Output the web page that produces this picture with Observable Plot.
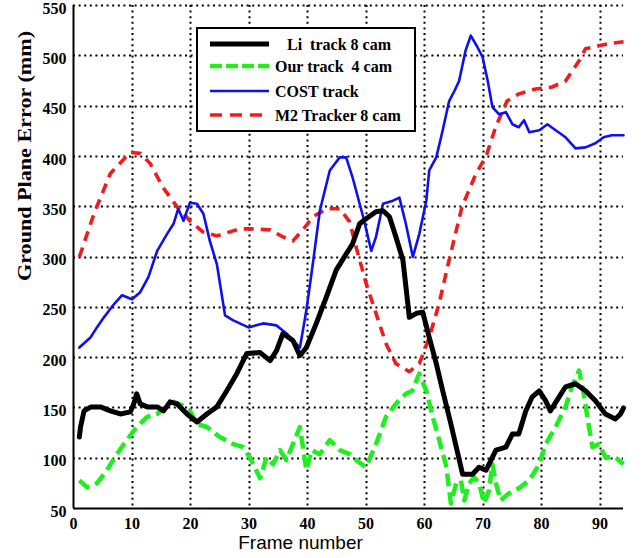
<!DOCTYPE html>
<html><head><meta charset="utf-8">
<script src="https://cdn.jsdelivr.net/npm/d3@7"></script>
<script src="https://cdn.jsdelivr.net/npm/@observablehq/plot@0.6"></script>
<style>
body{margin:0;background:#fff;}
#chart{position:relative;width:644px;height:558px;overflow:hidden;}
#legend{position:absolute;left:0;top:0;}
</style></head><body><div id="chart"></div>
<script>
// ---- data ----
const xTicks = [0,10,20,30,40,50,60,70,80,90];
const yTicks = [50,100,150,200,250,300,350,400,450,500,550];
const seriesNames = ["Li  track 8 cam", "Our track  4 cam", "COST track", "M2 Tracker 8 cam"];
const seriesColors = ["#000000", "#1fee1f", "#1010ee", "#f01c1c"];

const liFrames = [1,1.2,1.8,3,4.6,6.3,8,9.7,10.3,10.8,11.4,12.6,14.3,15.4,16.5,17.7,19.4,21.1,22.8,24.5,26.2,27.9,29.6,31.9,33.6,34.7,35.8,37.5,38.7,39.8,41.5,43.2,44.9,46.6,47.7,48.9,50,51.7,52.9,54,55.1,56.3,57.4,58.6,59.7,60.8,62,63.1,64.5,66.5,68.2,69.3,70.5,72.2,73.9,75,76.1,77.3,78.4,79.6,80.7,81.5,83,84.1,85.8,87.5,89.2,90.9,92.6,93.5,94];
const liValues = [121,131,147,151,151,147,144,146,154,164,154,151,151,147,156,154,144,136,144,151,167,184,204,205,197,207,224,217,202,210,234,260,287,303,313,333,338,345,346,340,320,297,240,244,245,220,194,167,134,84,84,91,88,108,111,124,124,147,161,167,157,147,161,171,174,167,157,144,139,144,150];

const ourFrames = [1,2.3,4,5.7,7.4,9.1,10.8,12.6,14.3,16,17.1,18.8,19.9,21.1,22.8,25,27.3,29,30.2,31.9,33,34.1,35.3,36.4,37.5,38.7,39.8,40.7,42.1,43.8,45.5,47.2,48.3,50,51.7,53.4,55.1,56.8,57.9,59.1,60.3,61.4,62.5,63.7,64.5,65.4,66.2,66.8,67.6,68.5,69.3,70.2,71,71.6,72.2,73,74.4,76.1,77.9,79.6,80.7,82.4,84.1,85.2,86.4,87.2,88.1,88.7,89.8,90.9,92.6,94];
const ourValues = [78,71,75,88,104,118,131,141,144,151,156,152,147,134,131,121,114,111,100,80,101,94,108,98,114,131,88,108,104,118,108,104,98,91,114,141,154,164,167,184,167,141,118,92,55,75,78,58,75,81,75,55,68,94,75,58,65,70,78,94,114,131,151,171,187,164,131,111,114,101,101,94];

const costFrames = [1,2.9,4,5.2,6.9,8.3,10,11.4,12.8,14.3,16,17.1,17.9,18.8,19.9,21.1,22.2,23.3,24.5,25.9,27.3,29.9,32.4,34.7,36.4,38.7,39.8,40.9,42.1,43.8,45.5,46.6,47.7,49.5,50.9,51.7,52.9,54.6,55.7,56.8,58,59.1,60.3,60.8,62,63.1,64.2,65.1,65.9,67,67.9,69,69.9,70.8,71.6,72.7,73.9,75,76.1,77,77.9,79.6,81,82.4,84.1,85.8,87.5,89.2,90.6,92,94];
const costValues = [210,220,230,240,253,262,258,265,280,306,323,333,348,336,354,353,343,316,293,242,237,230,234,232,224,210,247,293,346,386,399,399,379,340,306,320,353,356,359,333,300,323,356,386,399,426,455,465,475,505,520,509,499,475,449,442,444,432,429,436,424,426,432,426,419,408,409,413,419,421,421];

const m2Frames = [1,3.5,6.3,9.7,11.4,13.1,15.3,17.7,19.9,22.1,24.5,28.4,30.2,33.6,35.8,37.5,39.2,40.9,43.3,45.5,47.2,48.3,50,51.7,53.4,55.1,57.4,59.1,60.8,62.5,64.2,66.4,68.8,70.5,72.2,74.1,76.1,79,81.8,84.1,86.4,87.5,89.8,91.5,94];
const m2Values = [300,343,383,404,403,393,369,350,336,325,321,328,328,327,320,316,327,340,348,348,335,310,274,244,214,194,186,194,220,254,297,350,383,400,430,455,462,467,469,475,495,507,510,512,514];

const rows = (frames, values) => frames.map((f, i) => ({frame: f, value: values[i]}));

const plot = Plot.plot({
  width: 644, height: 558,
  marginLeft: 73, marginRight: 21, marginTop: 5, marginBottom: 50,
  style: {background: "#fff", fontFamily: "'Liberation Serif', 'Times New Roman', serif", fontWeight: "bold", fontSize: "16px", color: "#000"},
  x: {domain: [0, 94], label: null},
  y: {domain: [50, 550], label: null},
  marks: [
    Plot.axisX({ticks: xTicks, tickSize: 0, tickPadding: 9, fontSize: 16, fontWeight: "bold"}),
    Plot.axisY({ticks: yTicks, tickSize: 0, tickPadding: 7, dy: 3, fontSize: 16, fontWeight: "bold"}),
    Plot.ruleX([0], {stroke: "#000", strokeWidth: 2}),
    Plot.ruleY([50], {stroke: "#000", strokeWidth: 2}),
    Plot.line(rows(m2Frames, m2Values), {x: "frame", y: "value", stroke: seriesColors[3], strokeWidth: 3.6, strokeDasharray: "10,7", strokeLinecap: "butt"}),
    Plot.line(rows(costFrames, costValues), {x: "frame", y: "value", stroke: seriesColors[2], strokeWidth: 2.6}),
    Plot.line(rows(ourFrames, ourValues), {x: "frame", y: "value", stroke: seriesColors[1], strokeWidth: 4.5, strokeDasharray: "13,6", strokeLinecap: "butt"}),
    Plot.line(rows(liFrames, liValues), {x: "frame", y: "value", stroke: seriesColors[0], strokeWidth: 5}),
    Plot.text(["Frame number"], {frameAnchor: "bottom", dx: -48, dy: 40, fontFamily: "'Liberation Sans', Arial, sans-serif", fontWeight: "normal", fontSize: 19, fill: "#000"}),
    Plot.text(["Ground Plane Error (mm)"], {frameAnchor: "left", rotate: -90, dx: -48, dy: 24, fontSize: 18, fontWeight: "bold", fill: "#000"})
  ]
});
document.getElementById("chart").appendChild(plot);

// dotted grid, placed with the plot's own scales, inserted beneath the data lines
const sx = plot.scale("x"), sy = plot.scale("y");
const svg = d3.select(plot);
const gridG = svg.insert("g", ":first-child").attr("class", "dotgrid")
  .attr("stroke", "#000").attr("stroke-width", 2).attr("stroke-dasharray", "2 3.6").attr("fill", "none");
xTicks.filter(d => d > 0).forEach(t => {
  const x = Math.round(sx.apply(t)) + 0.5;
  gridG.append("line").attr("x1", x).attr("x2", x).attr("y1", sy.apply(550)).attr("y2", sy.apply(50));
});
yTicks.filter(d => d > 50).forEach(t => {
  const y = Math.round(sy.apply(t)) + 0.5;
  gridG.append("line").attr("x1", sx.apply(0)).attr("x2", sx.apply(94)).attr("y1", y).attr("y2", y);
});

// stretch the rotated y label like the reference
svg.selectAll("text").filter(function(){ return this.textContent === "Ground Plane Error (mm)"; })
  .attr("textLength", 250).attr("lengthAdjust", "spacingAndGlyphs");

// legend overlay
const leg = d3.select("#chart").append("svg").attr("id", "legend").attr("width", 644).attr("height", 558);
leg.append("rect").attr("x", 197).attr("y", 28).attr("width", 218).attr("height", 103)
  .attr("fill", "#fff").attr("stroke", "#000").attr("stroke-width", 2);
const legRows = [
  {y: 44, tx: 287, w: 5, dash: null},
  {y: 66, tx: 275, w: 4.5, dash: "12,4"},
  {y: 91, tx: 275, w: 2.6, dash: null},
  {y: 115, tx: 275, w: 3.6, dash: "12,8"}
];
legRows.forEach((r, i) => {
  leg.append("line").attr("x1", 210).attr("x2", 269).attr("y1", r.y).attr("y2", r.y)
    .attr("stroke", seriesColors[i]).attr("stroke-width", r.w).attr("stroke-dasharray", r.dash);
  leg.append("text").attr("x", r.tx).attr("y", r.y).attr("dy", "0.35em")
    .attr("font-family", "'Liberation Serif', 'Times New Roman', serif").attr("font-weight", "bold")
    .attr("font-size", 16).attr("fill", "#000").attr("xml:space", "preserve").style("white-space", "pre")
    .text(seriesNames[i]);
});
</script>
</body></html>
